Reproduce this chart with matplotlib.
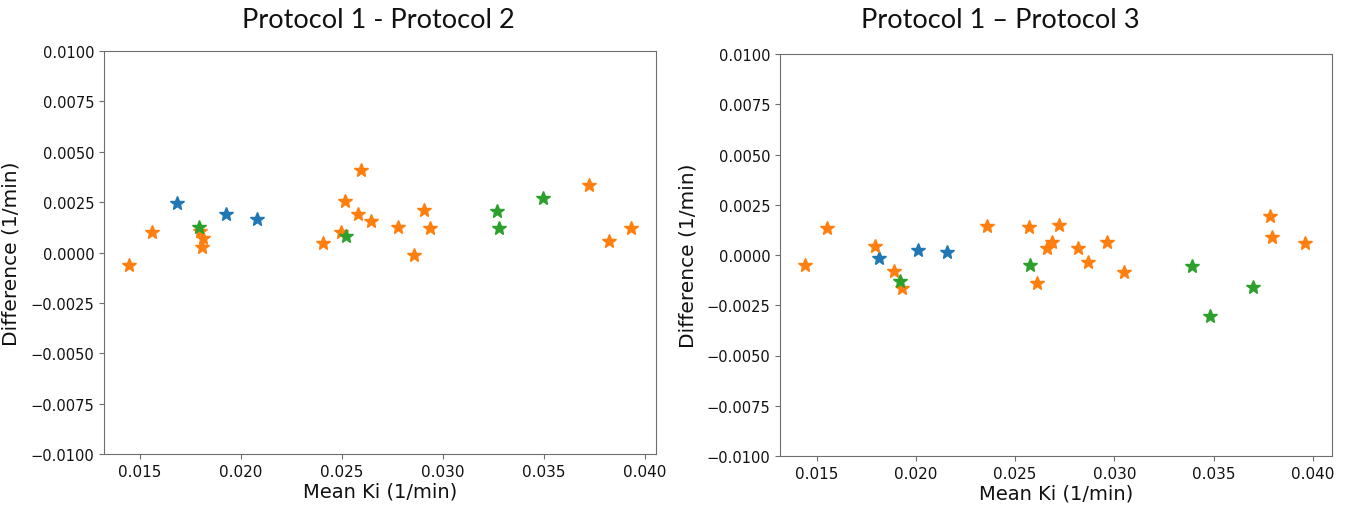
import matplotlib
matplotlib.use("Agg")
import matplotlib.pyplot as plt

# ---------------- data ----------------
# Panel 1: Protocol 1 - Protocol 2
p12_blue_x = [0.01682, 0.01927, 0.02080]
p12_blue_y = [0.00248, 0.00190, 0.00168]
p12_orange_x = [0.01447, 0.01558, 0.01795, 0.01812, 0.01807, 0.02408, 0.02494, 0.02515,
                0.02593, 0.02580, 0.02643, 0.02776, 0.02908, 0.02938, 0.02858, 0.03723,
                0.03820, 0.03933]
p12_orange_y = [-0.00061, 0.00103, 0.00105, 0.00072, 0.00027, 0.00045, 0.00102, 0.00256,
                0.00410, 0.00193, 0.00158, 0.00127, 0.00209, 0.00123, -0.00014, 0.00337,
                0.00057, 0.00123]
p12_green_x = [0.01792, 0.02519, 0.03269, 0.03279, 0.03495]
p12_green_y = [0.00125, 0.00082, 0.00206, 0.00123, 0.00271]

# Panel 2: Protocol 1 - Protocol 3
p13_blue_x = [0.01812, 0.02008, 0.02157]
p13_blue_y = [-0.00015, 0.00026, 0.00016]
p13_orange_x = [0.01441, 0.01550, 0.01795, 0.01889, 0.01928, 0.02356, 0.02568, 0.02610,
                0.02660, 0.02683, 0.02721, 0.02814, 0.02867, 0.02965, 0.03048, 0.03786,
                0.03795, 0.03962]
p13_orange_y = [-0.00050, 0.00134, 0.00046, -0.00081, -0.00166, 0.00146, 0.00141, -0.00141,
                0.00035, 0.00063, 0.00151, 0.00035, -0.00033, 0.00065, -0.00083, 0.00196,
                0.00088, 0.00060]
p13_green_x = [0.01919, 0.02577, 0.03392, 0.03483, 0.03697]
p13_green_y = [-0.00128, -0.00050, -0.00055, -0.00302, -0.00158]

titles = ["Protocol 1 - Protocol 2", "Protocol 1 \u2013 Protocol 3"]
xticks = [0.015, 0.020, 0.025, 0.030, 0.035, 0.040]
yticks = [-0.0100, -0.0075, -0.0050, -0.0025, 0.0000, 0.0025, 0.0050, 0.0075, 0.0100]

panels = [
    (p12_blue_x, p12_blue_y, p12_orange_x, p12_orange_y, p12_green_x, p12_green_y),
    (p13_blue_x, p13_blue_y, p13_orange_x, p13_orange_y, p13_green_x, p13_green_y),
]

W, H = 1346, 506
fig = plt.figure(figsize=(W / 100, H / 100), dpi=100)

axes_px = [(104, 52, 656, 455), (780, 55, 1332, 457)]
xlims = [(0.01321, 0.04055), (0.013153, 0.04096)]
title_pos = [(378, 20), (1000, 21)]
title_size = [19.5, 19.5]
ylabel_x = [-0.152, -0.150]
spine_col = "#6e6e6e"

for i, (bx, by, ox, oy, gx, gy) in enumerate(panels):
    l, t, r, b = axes_px[i]
    ax = fig.add_axes([l / W, 1 - b / H, (r - l) / W, (b - t) / H])
    ax.plot(bx, by, linestyle="none", marker="*", markersize=10, color="#1f77b4")
    ax.plot(ox, oy, linestyle="none", marker="*", markersize=10, color="#ff7f0e")
    ax.plot(gx, gy, linestyle="none", marker="*", markersize=10, color="#2ca02c")
    ax.set_xlim(*xlims[i])
    ax.set_ylim(-0.01, 0.01)
    ax.set_xticks(xticks)
    ax.set_xticklabels([f"{v:.3f}" for v in xticks])
    ax.set_yticks(yticks)
    ax.set_yticklabels([f"{v:.4f}".replace("-", "\u2212") for v in yticks])
    ax.tick_params(axis="y", labelsize=10.5, color=spine_col, labelcolor="#111111")
    ax.tick_params(axis="x", labelsize=11, color=spine_col, labelcolor="#111111")
    for s in ax.spines.values():
        s.set_color(spine_col)
    ax.set_xlabel("Mean Ki (1/min)", fontsize=14, color="#111111", labelpad=2)
    ax.set_ylabel("Difference (1/min)", fontsize=14.5, color="#111111")
    ax.yaxis.set_label_coords(ylabel_x[i], 0.5)
    tx, ty = title_pos[i]
    fig.text(tx / W, 1 - ty / H, titles[i], ha="center", va="center",
             fontsize=title_size[i], family=["Lato", "DejaVu Sans"], color="#111111")

fig.savefig("out.png", dpi=100)
